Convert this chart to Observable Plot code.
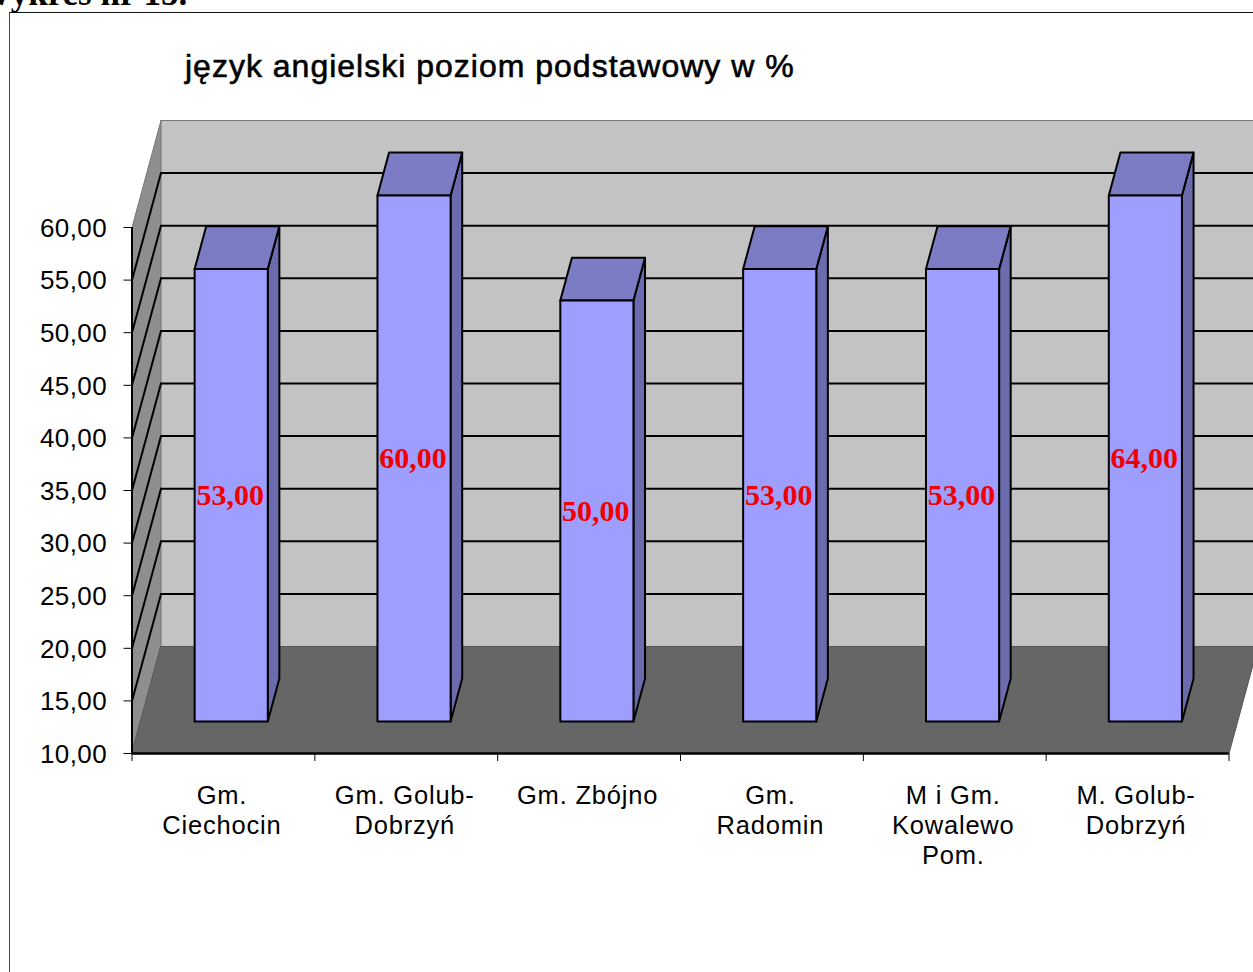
<!DOCTYPE html>
<html lang="pl">
<head>
<meta charset="utf-8">
<script src="https://cdn.jsdelivr.net/npm/d3@7"></script>
<script src="https://cdn.jsdelivr.net/npm/@observablehq/plot@0.6"></script>
<style>
html,body{margin:0;padding:0;background:#fff;overflow:hidden;width:1253px;height:972px}
#stage{position:relative;width:1253px;height:972px;overflow:hidden}
#stage svg{position:absolute;left:0;top:0;background:transparent}
#frame{position:absolute;left:9px;top:12px;right:-5px;bottom:-5px;border-left:1px solid #444;border-top:1px solid #111}
#note{position:absolute;left:-23px;top:-26px;font:bold 35px "Liberation Serif",serif;color:#000;white-space:nowrap}
#title{position:absolute;left:185px;top:48px;font:32px "Liberation Sans",Arial,sans-serif;letter-spacing:1px;-webkit-text-stroke:.6px #000;color:#000;white-space:nowrap}
.ylab{letter-spacing:.4px}
.cat{letter-spacing:.8px}
</style>
</head>
<body>
<div id="stage">
  <div id="frame"></div>
  <div id="note">Wykres nr 15.</div>
  <div id="title">język angielski poziom podstawowy w %</div>
</div>
<script>
const categories = ["Gm.\nCiechocin", "Gm. Golub-\nDobrzyń", "Gm. Zbójno", "Gm.\nRadomin", "M i Gm.\nKowalewo\nPom.", "M. Golub-\nDobrzyń"];
const values = [53, 60, 50, 53, 53, 64];
const valueLabels = ["53,00", "60,00", "50,00", "53,00", "53,00", "64,00"];
const yTicks = [10, 15, 20, 25, 30, 35, 40, 45, 50, 55, 60];
const yMin = 10, yMax = 60, n = categories.length;

// Oblique projection: depth 0 is the front of the plot box, depth 1 the back wall.
const depthX = 0.1586, depthY = 10.17;
const depthFront = 0.3, depthBack = 0.7;
const barHalf = 0.2, barCenter = 0.495;

const P = (x, y, d) => ({x: x + d * depthX, y: y + d * depthY});
const poly = (id, pts) => pts.map(([x, y, d]) => ({id, ...P(x, y, d)}));

const backWall = poly("b", [[0, yMin, 1], [n, yMin, 1], [n, yMax, 1], [0, yMax, 1]]);
const sideWall = poly("s", [[0, yMin, 0], [0, yMin, 1], [0, yMax, 1], [0, yMax, 0]]);
const floor = poly("f", [[0, yMin, 0], [n, yMin, 0], [n, yMin, 1], [0, yMin, 1]]);

const grid = yTicks.slice(1, -1);
const backGrid = grid.flatMap(v => poly(v, [[0, v, 1], [n, v, 1]]));
const sideGrid = grid.flatMap(v => poly(v, [[0, v, 0], [0, v, 1]]));

const tops = values.map(v => Math.min(v, yMax));
const fronts = [], lids = [], sides = [];
tops.forEach((t, i) => {
  const l = i + barCenter - barHalf, r = i + barCenter + barHalf;
  fronts.push(...poly(i, [[l, yMin, depthFront], [r, yMin, depthFront], [r, t, depthFront], [l, t, depthFront]]));
  lids.push(...poly(i, [[l, t, depthFront], [r, t, depthFront], [r, t, depthBack], [l, t, depthBack]]));
  sides.push(...poly(i, [[r, yMin, depthFront], [r, yMin, depthBack], [r, t, depthBack], [r, t, depthFront]]));
});

const shape = (data, fill, stroke, strokeWidth) => Plot.line(data, {
  x: "x", y: "y", z: "id", fill, stroke, strokeWidth,
  curve: "linear-closed", strokeLinejoin: "round"
});
const seg = (data, stroke, strokeWidth) => Plot.line(data, {x: "x", y: "y", z: "id", stroke, strokeWidth});

const labelData = tops.map((t, i) => ({
  ...P(i + barCenter, (t + yMin) / 2, depthFront), label: valueLabels[i]
}));

const chart = Plot.plot({
  width: 1253, height: 972,
  marginLeft: 131.5, marginRight: 24.5, marginTop: 227, marginBottom: 219,
  style: {background: "transparent", overflow: "hidden"},
  x: {domain: [0, n], range: [131.5, 1228.5], axis: null},
  y: {domain: [yMin, yMax], range: [753, 227], axis: null},
  marks: [
    shape(backWall, "#c3c3c3", "#777", 1),
    shape(sideWall, "#8e8e8e", "#777", 1),
    seg(backGrid, "#000", 2),
    seg(sideGrid, "#000", 2),
    shape(floor, "#666666", "#555", 1),
    shape(sides, "#6b6bad", "#000", 2),
    shape(lids, "#7c7cc4", "#000", 2),
    shape(fronts, "#9e9eff", "#000", 2),
    Plot.text(labelData, {
      x: "x", y: "y", text: "label", fill: "#f00000", dx: -1,
      fontFamily: "Liberation Serif", fontWeight: "bold", fontSize: 30
    }),
    Plot.ruleX([0], {y1: yMin, y2: yMax, stroke: "#000", strokeWidth: 2}),
    Plot.ruleY([yMin], {x1: 0, x2: n, stroke: "#000", strokeWidth: 2.5}),
    Plot.axisY({ticks: yTicks, tickSize: 8, text: null, stroke: "#000", label: null}),
    Plot.axisY({
      ticks: yTicks, tickSize: 0, tickPadding: 25, dy: 1, className: "ylab",
      tickFormat: d => d.toFixed(2).replace(".", ","),
      fontFamily: "Liberation Sans", fontSize: 26, fill: "#000", label: null
    }),
    Plot.axisX({
      ticks: d3.range(n + 1), tickSize: 8, tickFormat: () => "", stroke: "#000", label: null
    }),
    Plot.text(categories, {
      x: (d, i) => i + 0.5, y: yMin, text: d => d, className: "cat",
      dx: -1.5, dy: 29, lineAnchor: "top", lineHeight: 1.18,
      fontFamily: "Liberation Sans", fontSize: 25.5, fill: "#000"
    })
  ]
});
document.getElementById("stage").appendChild(chart);
</script>
</body>
</html>
